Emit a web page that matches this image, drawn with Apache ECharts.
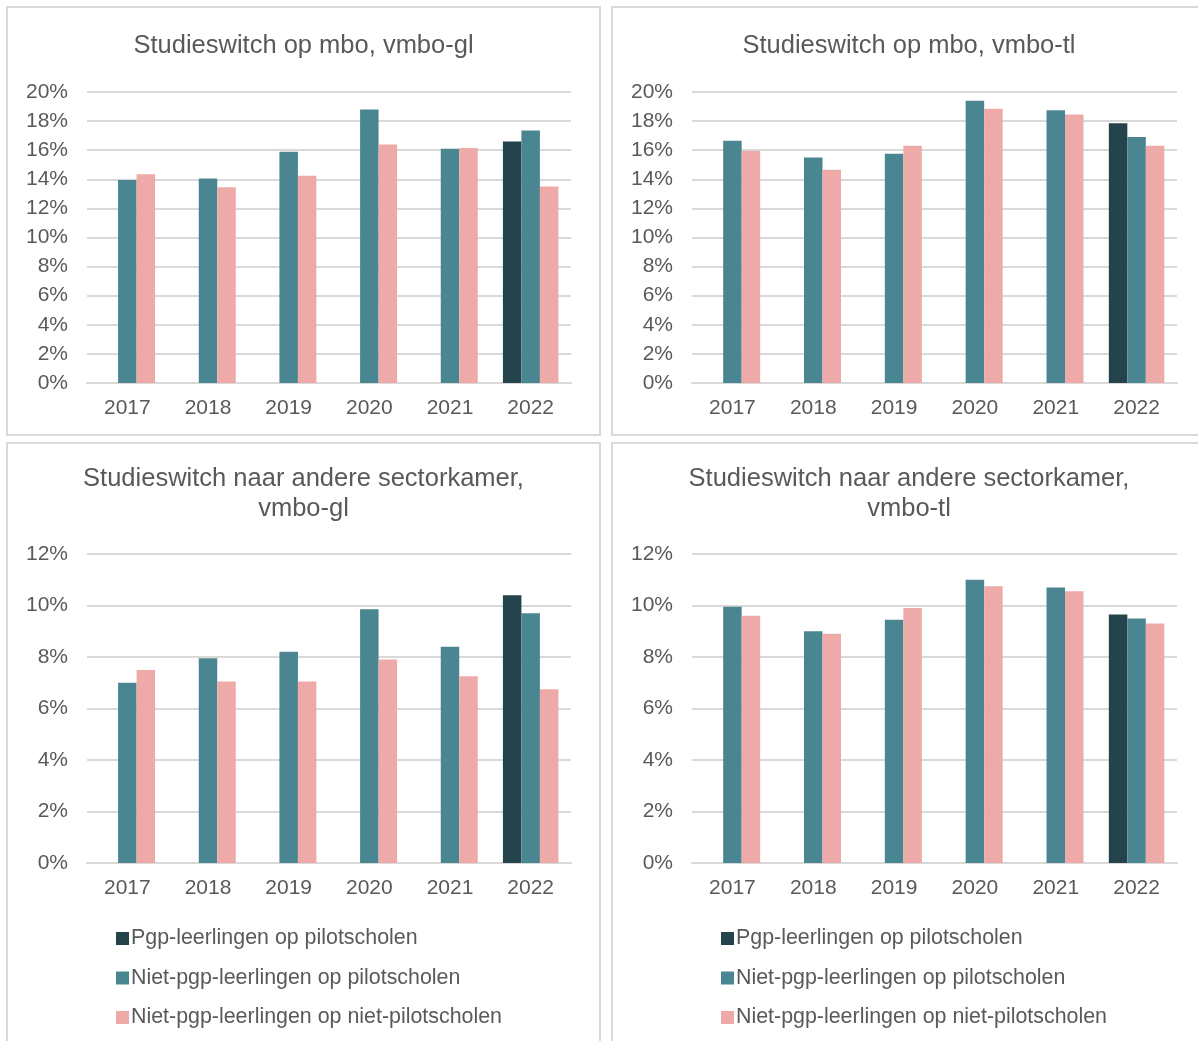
<!DOCTYPE html>
<html>
<head>
<meta charset="utf-8">
<script src="https://cdn.jsdelivr.net/npm/echarts@6/dist/echarts.min.js"></script>
<style>
  html, body { margin: 0; padding: 0; background: #ffffff; }
  #chart { width: 1198px; height: 1041px; }
</style>
</head>
<body>
<div id="chart"></div>
<script>
// Years on the category axis
const categories = ['2017', '2018', '2019', '2020', '2021', '2022'];

// Series names (legend)
const seriesNames = [
  'Pgp-leerlingen op pilotscholen',
  'Niet-pgp-leerlingen op pilotscholen',
  'Niet-pgp-leerlingen op niet-pilotscholen'
];

// Studieswitch op mbo, vmbo-gl (%)
const mboGlPgp       = [null, null, null, null, null, 16.6];
const mboGlPilot     = [13.95, 14.05, 15.9, 18.8, 16.1, 17.35];
const mboGlNonPilot  = [14.35, 13.45, 14.25, 16.4, 16.15, 13.5];

// Studieswitch op mbo, vmbo-tl (%)
const mboTlPgp       = [null, null, null, null, null, 17.85];
const mboTlPilot     = [16.65, 15.5, 15.75, 19.4, 18.75, 16.9];
const mboTlNonPilot  = [15.95, 14.65, 16.3, 18.85, 18.45, 16.3];

// Studieswitch naar andere sectorkamer, vmbo-gl (%)
const sectGlPgp      = [null, null, null, null, null, 10.4];
const sectGlPilot    = [7.0, 7.95, 8.2, 9.85, 8.4, 9.7];
const sectGlNonPilot = [7.5, 7.05, 7.05, 7.9, 7.25, 6.75];

// Studieswitch naar andere sectorkamer, vmbo-tl (%)
const sectTlPgp      = [null, null, null, null, null, 9.65];
const sectTlPilot    = [9.95, 9.0, 9.45, 11.0, 10.7, 9.5];
const sectTlNonPilot = [9.6, 8.9, 9.9, 10.75, 10.55, 9.3];

// Axis ranges
const topAxisMax = 20;
const bottomAxisMax = 12;
const axisInterval = 2;

const colors = ['#25434a', '#4a8692', '#eeaaa9'];
const textColor = '#595959';
const gridColor = '#d9d9d9';
const fontFamily = '"Liberation Sans", Arial, sans-serif';

const panels = [
  { title: 'Studieswitch op mbo, vmbo-gl', cx: 303.5, ty: 46,
    grid: { left: 87, top: 92, width: 484, height: 291 }, max: topAxisMax,
    data: [mboGlPgp, mboGlPilot, mboGlNonPilot] },
  { title: 'Studieswitch op mbo, vmbo-tl', cx: 909, ty: 46,
    grid: { left: 692, top: 92, width: 485, height: 291 }, max: topAxisMax,
    data: [mboTlPgp, mboTlPilot, mboTlNonPilot] },
  { title: 'Studieswitch naar andere sectorkamer,\nvmbo-gl', cx: 303.5, ty: 494,
    grid: { left: 87, top: 554, width: 484, height: 309 }, max: bottomAxisMax,
    data: [sectGlPgp, sectGlPilot, sectGlNonPilot] },
  { title: 'Studieswitch naar andere sectorkamer,\nvmbo-tl', cx: 909, ty: 494,
    grid: { left: 692, top: 554, width: 485, height: 309 }, max: bottomAxisMax,
    data: [sectTlPgp, sectTlPilot, sectTlNonPilot] }
];

const grids = [], xAxes = [], yAxes = [], series = [], graphics = [];

// Panel frames
[
  { x: 7, y: 7, width: 593, height: 428 },
  { x: 612, y: 7, width: 620, height: 428 },
  { x: 7, y: 443, width: 593, height: 640 },
  { x: 612, y: 443, width: 620, height: 640 }
].forEach(function (r) {
  graphics.push({
    type: 'rect', shape: r, silent: true,
    style: { fill: 'none', stroke: gridColor, lineWidth: 2 }
  });
});

panels.forEach(function (p, i) {
  grids.push(Object.assign({ containLabel: false }, p.grid));
  xAxes.push({
    type: 'category', gridIndex: i, data: categories,
    axisTick: { show: false },
    axisLine: { show: true, lineStyle: { color: gridColor, width: 2 } },
    axisLabel: { color: textColor, fontSize: 21, fontFamily: fontFamily, margin: 15 }
  });
  yAxes.push({
    type: 'value', gridIndex: i, min: 0, max: p.max, interval: axisInterval,
    axisLine: { show: false }, axisTick: { show: false },
    splitLine: { lineStyle: { color: gridColor, width: 2 } },
    axisLabel: { color: textColor, fontSize: 21, fontFamily: fontFamily, margin: 19,
                 formatter: '{value}%' }
  });
  p.data.forEach(function (d, k) {
    series.push({
      name: seriesNames[k], type: 'bar', xAxisIndex: i, yAxisIndex: i,
      data: d, barWidth: 18.5, barGap: '0%',
      itemStyle: { color: colors[k] }, emphasis: { disabled: true }
    });
  });
  graphics.push({
    type: 'text', x: p.cx, y: p.ty, silent: true,
    style: {
      text: p.title, fill: textColor, font: '25.5px ' + fontFamily,
      align: 'center', verticalAlign: 'middle', lineHeight: 30
    }
  });
});

const legendBase = {
  orient: 'vertical', data: seriesNames, top: 928, padding: 0,
  icon: 'rect', itemWidth: 13, itemHeight: 13, itemGap: 18.5,
  selectedMode: false,
  textStyle: { color: textColor, fontSize: 21.4, fontFamily: fontFamily, lineHeight: 21,
               padding: [0, 0, 0, -3] }
};

const option = {
  backgroundColor: '#ffffff',
  animation: false,
  color: colors,
  grid: grids,
  xAxis: xAxes,
  yAxis: yAxes,
  series: series,
  legend: [
    Object.assign({ left: 116 }, legendBase),
    Object.assign({ left: 721 }, legendBase)
  ],
  graphic: graphics
};

const chart = echarts.init(document.getElementById('chart'), null, { renderer: 'canvas' });
chart.setOption(option);
</script>
</body>
</html>
